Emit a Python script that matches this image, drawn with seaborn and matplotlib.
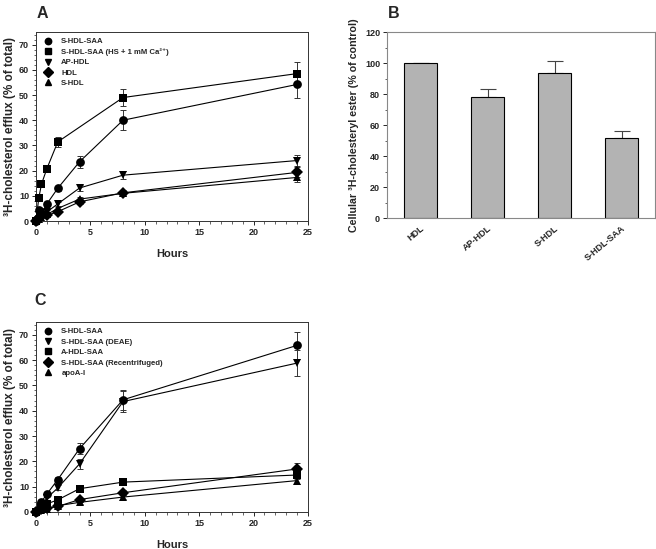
import numpy as np
import pandas as pd
import matplotlib
matplotlib.use("Agg")
import matplotlib.pyplot as plt
import seaborn as sns
from matplotlib.lines import Line2D
from matplotlib.ticker import MultipleLocator

# --- panel A: efflux time course ---
a_names = ["S-HDL-SAA", "S-HDL-SAA (HS + 1 mM Ca²⁺)", "AP-HDL", "HDL", "S-HDL"]
a_markers = ["o", "s", "v", "D", "^"]
a_hours = [
    [0, 0.25, 0.5, 1, 2, 4, 8, 24],
    [0, 0.25, 0.5, 1, 2, 8, 24],
    [0, 0.25, 0.5, 1, 2, 4, 8, 24],
    [0, 0.25, 0.5, 1, 2, 4, 8, 24],
    [0, 0.25, 0.5, 1, 2, 4, 8, 24],
]
a_vals = [
    [0, 4.2, 3.0, 6.8, 13.0, 23.5, 40.0, 54.2],
    [0, 9.0, 14.6, 20.8, 31.4, 49.0, 58.5],
    [0, 2.5, 3.0, 3.6, 6.8, 13.1, 18.2, 24.0],
    [0, 1.2, 1.8, 2.2, 3.7, 7.6, 11.2, 19.3],
    [0, 0.8, 1.5, 2.6, 5.0, 8.7, 11.0, 17.3],
]
a_err = [
    [0, 0.8, 0.6, 0.8, 1.0, 2.5, 4.0, 5.2],
    [0, 0.8, 1.0, 1.5, 2.0, 3.5, 4.5],
    [0, 0.5, 0.5, 0.6, 0.8, 1.0, 1.6, 2.2],
    [0, 0.3, 0.4, 0.5, 0.6, 1.0, 1.0, 2.0],
    [0, 0.3, 0.4, 0.5, 0.6, 1.0, 1.0, 2.0],
]

# --- panel B: cellular cholesteryl ester ---
b_cats = ["HDL", "AP-HDL", "S-HDL", "S-HDL-SAA"]
b_vals = [100, 78, 93.5, 51.8]
b_err = [0, 5.0, 7.5, 4.2]

# --- panel C: efflux time course ---
c_names = ["S-HDL-SAA", "S-HDL-SAA (DEAE)", "A-HDL-SAA", "S-HDL-SAA (Recentrifuged)", "apoA-I"]
c_markers = ["o", "v", "s", "D", "^"]
c_hours = [0, 0.5, 1, 2, 4, 8, 24]
c_vals = [
    [0, 4.0, 7.1, 12.8, 25.0, 44.3, 65.8],
    [0, 2.5, 5.5, 9.5, 19.0, 43.6, 58.8],
    [0, 2.0, 3.2, 4.8, 9.2, 11.8, 14.6],
    [0, 1.0, 1.5, 2.2, 4.9, 7.6, 17.0],
    [0, 0.8, 1.2, 2.5, 3.8, 5.9, 12.4],
]
c_err = [
    [0, 0.6, 0.8, 1.0, 2.2, 4.0, 5.2],
    [0, 0.5, 0.7, 1.0, 2.0, 4.0, 5.0],
    [0, 0.4, 0.5, 0.6, 0.8, 1.0, 1.5],
    [0, 0.3, 0.4, 0.5, 0.8, 1.0, 2.5],
    [0, 0.3, 0.4, 0.5, 0.6, 0.8, 1.5],
]

sns.set_theme(style="ticks")
plt.rcParams["font.family"] = ["Liberation Sans", "DejaVu Sans"]
plt.rcParams["font.weight"] = "bold"
plt.rcParams["axes.labelweight"] = "bold"

fig = plt.figure(figsize=(6.56, 5.49), dpi=100)
axA = fig.add_axes([0.0549, 0.5974, 0.4146, 0.3443])
axB = fig.add_axes([0.590, 0.6029, 0.4085, 0.3388])
axC = fig.add_axes([0.0549, 0.0674, 0.4146, 0.346])


def efflux_panel(ax, names, markers, hours, vals, errs):
    rows = []
    for n, h, v in zip(names, hours, vals):
        for hh, vv in zip(h, v):
            rows.append({"Series": n, "Hours": hh, "Efflux": vv})
    df = pd.DataFrame(rows)
    sns.lineplot(data=df, x="Hours", y="Efflux", hue="Series", style="Series",
                 markers=dict(zip(names, markers)), dashes=False,
                 palette=["black"] * len(names), markersize=6.3, linewidth=0.8,
                 markeredgewidth=0, legend=False, ax=ax, clip_on=False, zorder=3)
    for h, v, e in zip(hours, vals, errs):
        ax.errorbar(h, v, yerr=e, fmt="none", ecolor="#333333", elinewidth=0.7,
                    capsize=2.5, capthick=0.7, zorder=2)
    ax.set_xlim(0, 25)
    ax.set_ylim(0, 75)
    ax.xaxis.set_major_locator(MultipleLocator(5))
    ax.xaxis.set_minor_locator(MultipleLocator(1))
    ax.yaxis.set_major_locator(MultipleLocator(10))
    ax.yaxis.set_minor_locator(MultipleLocator(2))
    ax.tick_params(which="major", labelsize=6.5, length=3, width=0.7, pad=2)
    ax.tick_params(which="minor", length=1.8, width=0.5)
    for lab in ax.get_xticklabels() + ax.get_yticklabels():
        lab.set_fontweight("bold")
    for s in ax.spines.values():
        s.set_visible(True)
        s.set_linewidth(0.7)
        s.set_color("#333333")
    ax.set_xlabel("Hours", fontsize=8, fontweight="bold", labelpad=9)
    ax.set_ylabel("³H-cholesterol efflux (% of total)", fontsize=8.5, fontweight="bold", labelpad=2)
    handles = [Line2D([], [], color="black", marker=m, linestyle="none", markersize=4.6)
               for m in markers]
    ax.legend(handles, names, loc="upper left", frameon=False,
              handletextpad=0.9, handlelength=1.6, labelspacing=0.38, borderaxespad=0.35,
              prop={"weight": "bold", "size": 5.6})


efflux_panel(axA, a_names, a_markers, a_hours, a_vals, a_err)
efflux_panel(axC, c_names, c_markers, [c_hours] * len(c_names), c_vals, c_err)

# panel B bars
dfb = pd.DataFrame({"Sample": b_cats, "Value": b_vals})
sns.barplot(data=dfb, x="Sample", y="Value", color="#b3b3b3", edgecolor="black",
            linewidth=0.8, width=0.5, saturation=1, ax=axB, zorder=2)
axB.errorbar(range(len(b_cats)), b_vals, yerr=[[0] * len(b_err), b_err], fmt="none",
             ecolor="#444444", elinewidth=0.8, capsize=6, capthick=0.8, zorder=1)
axB.set_xlim(-0.5, 3.5)
axB.set_ylim(0, 120)
axB.yaxis.set_major_locator(MultipleLocator(20))
axB.yaxis.set_minor_locator(MultipleLocator(10))
axB.tick_params(axis="y", which="major", labelsize=6.5, length=3, width=0.7, pad=2)
axB.tick_params(axis="y", which="minor", length=1.8, width=0.5)
axB.tick_params(axis="x", labelsize=6.5, length=0, pad=4)
for lab in axB.get_xticklabels():
    lab.set_rotation(40)
    lab.set_ha("right")
    lab.set_rotation_mode("anchor")
    lab.set_fontweight("bold")
for lab in axB.get_yticklabels():
    lab.set_fontweight("bold")
for s in axB.spines.values():
    s.set_visible(True)
    s.set_linewidth(0.8)
    s.set_color("#888888")
axB.set_xlabel("")
axB.set_ylabel("Cellular ³H-cholesteryl ester (% of control)", fontsize=7.7, fontweight="bold", labelpad=4)

fig.text(0.056, 0.989, "A", fontsize=11.5, fontweight="bold", va="top")
fig.text(0.592, 0.989, "B", fontsize=11.5, fontweight="bold", va="top")
fig.text(0.053, 0.467, "C", fontsize=11.5, fontweight="bold", va="top")

fig.savefig("out.png", dpi=100)
